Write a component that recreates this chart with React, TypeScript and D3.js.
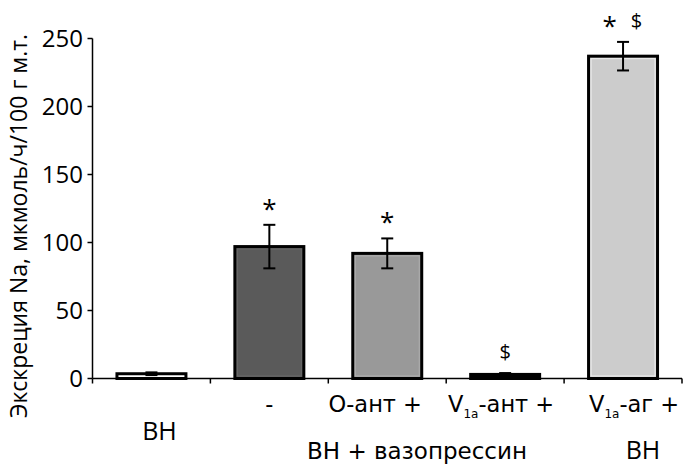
import React from "react";
import * as d3 from "d3";

const categories = ["ВН", "ВН+ВП", "О-ант", "V1a-ант", "V1a-аг"];
const values = [3.5, 97, 92, 3, 237];
const errors = [1, 16, 11, 1, 10.5];
const fills = ["#ffffff", "#5a5a5a", "#999999", "#000000", "#cccccc"];
const marks = [[], ["*"], ["*"], ["$"], ["*", "$"]];
const yTicks = [0, 50, 100, 150, 200, 250];
const row1Main = ["", "-", "О-ант +", "V", "V"];
const row1Sub = ["", "", "", "1a", "1a"];
const row1Tail = ["", "", "", "-ант +", "-аг +"];
const yLabel = "Экскреция Na, мкмоль/ч/100 г м.т.";
const groupLabel = "ВН + вазопрессин";
const leftLabel = "ВН";
const rightLabel = "ВН";

const W = 691;
const H = 467;
const X0 = 92.5;
const X1 = 682;
const Y0 = 378.5;
const Y1 = 38.5;
const FONT = "'Open Sans', 'DejaVu Sans', sans-serif";
const WIDE = "'DejaVu Sans', sans-serif";
const LABEL_DX = [0, 0, -12, -4, 11];

export default function App() {
  const x = d3
    .scaleBand<string>()
    .domain(categories)
    .range([X0, X1])
    .paddingInner(0.415)
    .paddingOuter(0.2075);
  const y = d3.scaleLinear().domain([0, 250]).range([Y0, Y1]);
  const step = x.step();
  const bw = x.bandwidth();
  const boundaries = d3.range(categories.length + 1).map((i) => X0 + i * step);

  return (
    <svg
      width={W}
      height={H}
      style={{ position: "absolute", left: 0, top: 0, background: "#fff" }}
      fontFamily={FONT}
    >
      <rect width={W} height={H} fill="#fff" />
      {/* y label */}
      <text
        transform={`translate(27,226) rotate(-90)`}
        textAnchor="middle"
        fontSize={23}
        fill="#000"
      >
        {yLabel}
      </text>
      {/* y axis */}
      <line x1={X0} x2={X0} y1={Y1} y2={Y0} stroke="#000" strokeWidth={1.5} />
      {yTicks.map((t) => (
        <g key={t}>
          <line x1={X0 - 5} x2={X0} y1={y(t)} y2={y(t)} stroke="#000" strokeWidth={1.5} />
          <text x={83} y={y(t) + 8.5} textAnchor="end" fontSize={24} fill="#000">
            {t}
          </text>
        </g>
      ))}
      {/* bars */}
      {categories.map((c, i) => {
        const bx = x(c)!;
        const top = y(values[i]);
        const h = Y0 - top;
        const inner = d3.color(fills[i])!.brighter(0.4).formatHex();
        return (
          <g key={c}>
            <rect x={bx} y={top} width={bw} height={h} fill={fills[i]} stroke="#000" strokeWidth={3} />
            {h > 8 && i !== 0 ? (
              <rect
                x={bx + 2.5}
                y={top + 2.5}
                width={bw - 5}
                height={h - 5}
                fill="none"
                stroke={i === 4 ? "#f0f0f0" : inner}
                strokeWidth={1}
              />
            ) : null}
          </g>
        );
      })}
      {/* x axis */}
      <line x1={X0} x2={X1} y1={Y0} y2={Y0} stroke="#000" strokeWidth={1.5} />
      {boundaries.map((bx, i) => (
        <line key={i} x1={bx} x2={bx} y1={Y0} y2={Y0 + 5} stroke="#000" strokeWidth={1.5} />
      ))}
      {/* error bars */}
      {categories.map((c, i) => {
        const cx = x(c)! + bw / 2;
        const hi = y(values[i] + errors[i]);
        const lo = y(values[i] - errors[i]);
        return (
          <g key={c} stroke="#000" strokeWidth={2}>
            <line x1={cx} x2={cx} y1={hi} y2={lo} />
            <line x1={cx - 6} x2={cx + 6} y1={hi} y2={hi} />
            <line x1={cx - 6} x2={cx + 6} y1={lo} y2={lo} />
          </g>
        );
      })}
      {/* significance marks */}
      {categories.map((c, i) => {
        const cx = x(c)! + bw / 2;
        const topV = Math.max(values[i] + errors[i], values[i]);
        const cy = y(topV) - 21;
        const m = marks[i];
        return m.map((s, j) => {
          const dx = (j - (m.length - 1) / 2) * 27;
          const isStar = s === "*";
          return (
            <text
              key={`${c}-${j}`}
              x={cx + dx}
              y={isStar ? cy + 14 : cy + 7}
              textAnchor="middle"
              fontSize={isStar ? 26 : 20}
              fill="#000"
            >
              {s}
            </text>
          );
        });
      })}
      {/* category labels row 1 */}
      {categories.map((c, i) => {
        const cx = x(c)! + bw / 2 + LABEL_DX[i];
        if (!row1Main[i]) return null;
        return (
          <text
            key={c}
            x={cx}
            y={412}
            textAnchor="middle"
            fontSize={22.5}
            fontFamily={WIDE}
            fill="#000"
          >
            <tspan>{row1Main[i]}</tspan>
            {row1Sub[i] ? (
              <tspan fontSize={12} dy={6}>
                {row1Sub[i]}
              </tspan>
            ) : null}
            {row1Tail[i] ? <tspan dy={row1Sub[i] ? -6 : 0}>{row1Tail[i]}</tspan> : null}
          </text>
        );
      })}
      <text x={159.5} y={440} textAnchor="middle" fontSize={25} fill="#000">
        {leftLabel}
      </text>
      <text x={417} y={459} textAnchor="middle" fontSize={23} fontFamily={WIDE} fill="#000">
        {groupLabel}
      </text>
      <text x={643} y={459} textAnchor="middle" fontSize={25} fill="#000">
        {rightLabel}
      </text>
    </svg>
  );
}
